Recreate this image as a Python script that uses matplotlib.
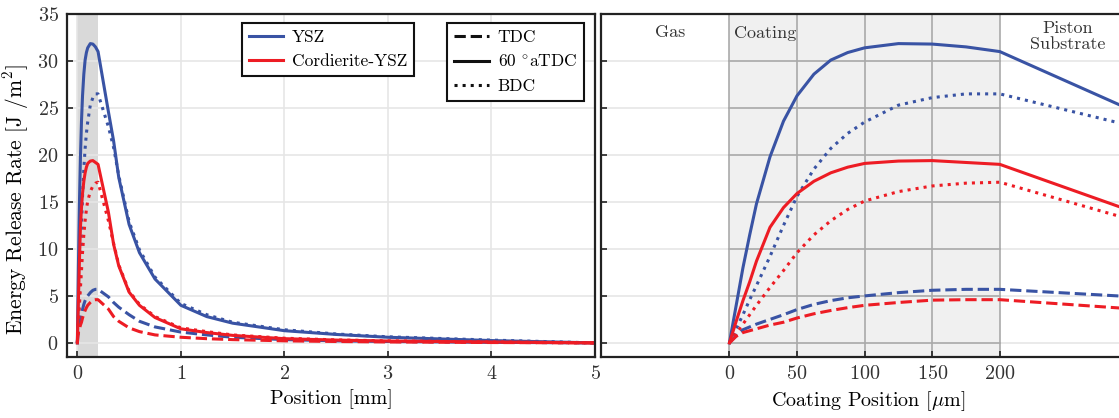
import numpy as np
import matplotlib
matplotlib.use('Agg')
import matplotlib.pyplot as plt
from matplotlib.lines import Line2D

plt.rcParams['font.family'] = ['cmr10', 'DejaVu Serif']
plt.rcParams['mathtext.fontset'] = 'cm'
plt.rcParams['axes.formatter.use_mathtext'] = True

# position along the coating/substrate [mm]
x_mm = [0, 0.005, 0.01, 0.015, 0.02, 0.03, 0.04, 0.05, 0.0625, 0.075, 0.0875, 0.1,
        0.125, 0.15, 0.175, 0.2, 0.3, 0.35, 0.4, 0.5, 0.6, 0.75, 1.0, 1.25, 1.5,
        2.0, 2.5, 3.0, 4.0, 5.0]

# energy release rate [J/m^2]
ysz_tdc = [0, 0.8, 1.4, 1.7, 2.0, 2.5, 3.0, 3.55, 4.1, 4.5, 4.8, 5.0,
           5.35, 5.6, 5.7, 5.7, 4.9, 4.3, 3.8, 3.0, 2.3, 1.7, 1.15, 0.85, 0.6,
           0.35, 0.22, 0.15, 0.06, 0]
ysz_60 = [0, 4.0, 8.0, 11.5, 14.8, 19.8, 23.6, 26.3, 28.6, 30.1, 30.9, 31.4,
          31.85, 31.8, 31.5, 31.0, 24.6, 21.5, 17.6, 12.6, 9.6, 6.8, 4.0, 2.8, 2.1,
          1.3, 0.9, 0.6, 0.25, 0]
ysz_bdc = [0, 1.5, 3.0, 4.6, 6.1, 9.2, 12.5, 15.6, 18.5, 20.7, 22.3, 23.5,
           25.3, 26.1, 26.5, 26.5, 23.0, 20.8, 17.8, 12.9, 9.9, 7.0, 4.2, 3.0, 2.2,
           1.4, 0.95, 0.65, 0.3, 0]
cor_tdc = [0, 0.7, 1.1, 1.3, 1.5, 1.9, 2.2, 2.65, 3.1, 3.45, 3.75, 4.0,
           4.3, 4.55, 4.6, 4.6, 3.6, 2.8, 2.3, 1.6, 1.2, 0.85, 0.6, 0.45, 0.35,
           0.22, 0.15, 0.1, 0.04, 0]
cor_60 = [0, 2.3, 4.5, 6.5, 8.7, 12.3, 14.4, 15.9, 17.2, 18.1, 18.7, 19.1,
          19.35, 19.4, 19.2, 19.0, 13.9, 10.5, 8.2, 5.4, 4.0, 2.7, 1.5, 1.1, 0.8,
          0.45, 0.3, 0.2, 0.1, 0]
cor_bdc = [0, 1.0, 2.0, 3.0, 4.0, 5.9, 7.7, 9.6, 11.5, 13.0, 14.2, 15.1,
           16.1, 16.7, 17.0, 17.1, 13.0, 10.6, 8.3, 5.5, 4.1, 2.8, 1.6, 1.2, 0.85,
           0.5, 0.32, 0.22, 0.1, 0]

blue = '#3953a4'
red = '#ed1c24'
series = [
    (ysz_tdc, blue, '--'), (ysz_60, blue, '-'), (ysz_bdc, blue, ':'),
    (cor_tdc, red, '--'), (cor_60, red, '-'), (cor_bdc, red, ':'),
]

fig = plt.figure(figsize=(11.19, 4.18), dpi=100)
ax1 = fig.add_axes([67 / 1119, 1 - 357 / 418, 528 / 1119, 343 / 418])
ax2 = fig.add_axes([601 / 1119, 1 - 357 / 418, 534 / 1119, 343 / 418])

x_mm = np.array(x_mm)
x_um = x_mm * 1000

# left panel
ax1.axvspan(0, 0.2, color='#d9d9d9', zorder=0, lw=0)
for y, c, ls in series:
    ax1.plot(x_mm, y, color=c, ls=ls, lw=2.2)
ax1.set_xlim(-0.1, 5.0)
ax1.set_ylim(-1.5, 35)
ax1.set_xticks(range(6))
ax1.set_yticks(range(0, 36, 5))
ax1.grid(True, color='#e6e6e6', lw=1.2, zorder=0)
ax1.set_axisbelow(True)
ax1.set_xlabel('Position [mm]', fontsize=14.5)
ax1.set_ylabel('Energy Release Rate [J /m$^2$]', fontsize=15.5)
ax1.yaxis.set_label_coords(-0.068, 0.46)

leg_kw = dict(loc='upper left', borderaxespad=0, fancybox=False, edgecolor='#111111',
              framealpha=1, fontsize=12.5, handlelength=2.0, handletextpad=0.5)
leg1 = ax1.legend(handles=[Line2D([], [], color=blue, lw=2.2), Line2D([], [], color=red, lw=2.2)],
                  labels=['YSZ', 'Cordierite-YSZ'], bbox_to_anchor=(0.331, 0.974), **leg_kw)
leg1.get_frame().set_linewidth(1.5)
ax1.add_artist(leg1)
leg2 = ax1.legend(handles=[Line2D([], [], color='#111111', ls=s, lw=2.2) for s in ['--', '-', ':']],
                  labels=['TDC', '60 $^{\\circ}$aTDC', 'BDC'], bbox_to_anchor=(0.72, 0.974), **leg_kw)
leg2.get_frame().set_linewidth(1.5)

# right panel: zoom on coating
ax2.axvspan(0, 200, color='#f0f0f0', zorder=0, lw=0)
ax2.set_xlim(-95, 300)
ax2.set_ylim(-1.5, 35)
ax2.set_xticks(range(0, 201, 50))
ax2.set_yticks(range(0, 36, 5))
ax2.set_yticklabels([])
for yv in range(0, 36, 5):
    ax2.axhline(yv, color='#e6e6e6', lw=1.2, zorder=0.5)
    ax2.plot([0, 200], [yv, yv], color='#aaaaaa', lw=1.2, zorder=0.6)
for xv in range(0, 201, 50):
    ax2.axvline(xv, color='#aaaaaa', lw=1.2, zorder=0.6)
for y, c, ls in series:
    ax2.plot(x_um, y, color=c, ls=ls, lw=2.2)
ax2.set_xlabel('Coating Position [$\\mu$m]', fontsize=14.5)
ax2.text(-44, 33.0, 'Gas', ha='center', va='center', fontsize=13, color='#333333')
ax2.text(3.5, 32.9, 'Coating', ha='left', va='center', fontsize=13, color='#333333')
ax2.text(250, 32.6, 'Piston\nSubstrate', ha='center', va='center', fontsize=13,
         color='#333333', linespacing=1.05)

for ax in (ax1, ax2):
    for sp in ax.spines.values():
        sp.set_linewidth(1.6)
        sp.set_color('#222222')
    ax.tick_params(direction='in', length=4, width=1.2, colors='#222222',
                   labelcolor='#333333', labelsize=14.5, pad=6)

fig.savefig('out.png', dpi=100)
